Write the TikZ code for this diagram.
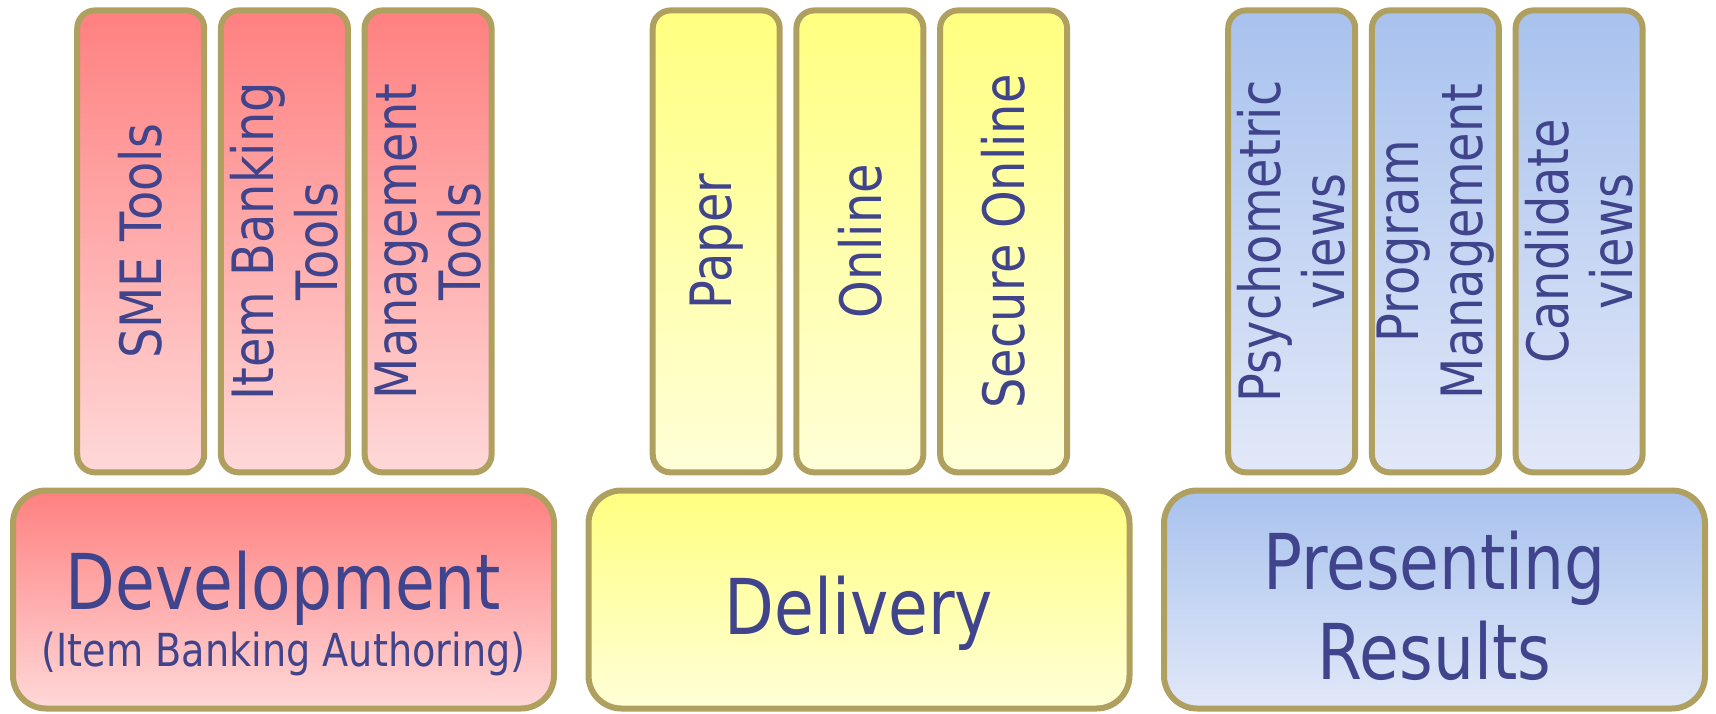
\documentclass[tikz,border=0pt]{standalone}
\usepackage{fontspec}
\newfontfamily\tah[FakeStretch=0.84]{DejaVu Sans}
\definecolor{edge}{RGB}{176,160,96}
\definecolor{ink}{RGB}{64,68,140}
\definecolor{redtop}{RGB}{255,128,128}
\definecolor{redbot}{RGB}{255,216,216}
\definecolor{yeltop}{RGB}{255,255,128}
\definecolor{yelbot}{RGB}{255,255,216}
\definecolor{blutop}{RGB}{168,194,238}
\definecolor{blubot}{RGB}{226,232,248}
\tikzset{
  smallbox/.style={draw=edge, line width=6pt, rounded corners=18pt, minimum width=127pt, minimum height=462pt, inner sep=0pt, outer sep=0pt},
  bigbox/.style={draw=edge, line width=6pt, rounded corners=33pt, minimum width=541pt, minimum height=218pt, inner sep=0pt, outer sep=0pt},
  redfill/.style={top color=redtop, bottom color=redbot},
  yelfill/.style={top color=yeltop, bottom color=yelbot},
  blufill/.style={top color=blutop, bottom color=blubot},
  vlabel/.style={rotate=90, text=ink, align=center, inner sep=0pt, font=\tah\fontsize{57}{64}\selectfont},
  bigtext/.style={text=ink, anchor=base, inner sep=0pt, font=\tah\fontsize{77}{90}\selectfont},
  subtext/.style={text=ink, anchor=base, inner sep=0pt, font=\tah\fontsize{45.5}{52}\selectfont},
}
\begin{document}
\begin{tikzpicture}[x=1pt,y=-1pt]
\useasboundingbox (0,0) rectangle (1716,714);
% Development group
\node[smallbox, redfill] (sme) at (140.7,241.4) {};
\node[smallbox, redfill] (ibt) at (284.4,241.4) {};
\node[smallbox, redfill] (mgt) at (428.1,241.4) {};
\node[bigbox, redfill] (dev) at (283.5,599.5) {};
\node[vlabel] (smet) at (sme.center) {SME Tools};
\node[vlabel] (ibtt) at (ibt.center) {Item Banking\\Tools};
\node[vlabel] (mgtt) at (mgt.center) {Management\\Tools};
\node[bigtext] (devt) at (283.5,609.6) {Development};
\node[subtext] (devs) at (283.5,666.7) {(Item Banking Authoring)};
% Delivery group
\node[smallbox, yelfill] (pap) at (716.2,241.4) {};
\node[smallbox, yelfill] (onl) at (859.9,241.4) {};
\node[smallbox, yelfill] (sec) at (1003.6,241.4) {};
\node[bigbox, yelfill] (del) at (859,599.5) {};
\node[vlabel] (papt) at (pap.center) {Paper};
\node[vlabel] (onlt) at (onl.center) {Online};
\node[vlabel] (sect) at (sec.center) {Secure Online};
\node[bigtext] (delt) at (859,634) {Delivery};
% Presenting group
\node[smallbox, blufill] (psy) at (1291.7,241.4) {};
\node[smallbox, blufill] (prg) at (1435.4,241.4) {};
\node[smallbox, blufill] (can) at (1579.1,241.4) {};
\node[bigbox, blufill] (res) at (1434.5,599.5) {};
\node[vlabel] (psyt) at (psy.center) {Psychometric\\views};
\node[vlabel] (prgt) at (prg.center) {Program\\Management};
\node[vlabel] (cant) at (can.center) {Candidate\\views};
\node[bigtext] (rest1) at (1434.5,589) {Presenting};
\node[bigtext] (rest2) at (1434.5,679.5) {Results};
\end{tikzpicture}
\end{document}
